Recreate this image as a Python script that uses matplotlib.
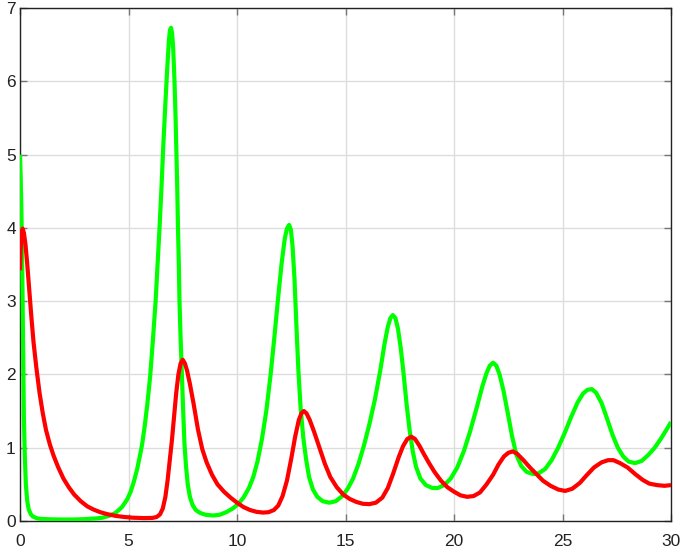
import matplotlib
matplotlib.use("Agg")
import matplotlib.pyplot as plt

# Prey (green) series
prey_t = [0, 0.03, 0.06, 0.09, 0.12, 0.15, 0.18, 0.22, 0.27, 0.33, 0.4, 0.5, 0.6, 0.8, 1.0,
          1.5, 2.0, 2.5, 3.0, 3.5, 3.8, 4.1, 4.4, 4.7, 4.93, 5.1, 5.25, 5.4, 5.52, 5.63,
          5.75, 5.87, 6.0, 6.12, 6.25, 6.34, 6.43, 6.52, 6.6, 6.7, 6.79, 6.86, 6.91, 6.96,
          7.01, 7.06, 7.12, 7.17, 7.21, 7.25, 7.28, 7.32, 7.35, 7.4, 7.46, 7.52, 7.58,
          7.65, 7.73, 7.83, 7.95, 8.1, 8.3, 8.55, 8.9, 9.2, 9.5, 9.8, 10.05, 10.3, 10.55,
          10.75, 10.95, 11.15, 11.35, 11.55, 11.72, 11.88, 12.05, 12.2, 12.3, 12.4, 12.48,
          12.56, 12.65, 12.74, 12.83, 12.93, 13.05, 13.18, 13.32, 13.5, 13.7, 13.95, 14.25,
          14.55, 14.85, 15.1, 15.35, 15.6, 15.85, 16.1, 16.35, 16.6, 16.8, 16.95, 17.07,
          17.18, 17.3, 17.42, 17.55, 17.68, 17.82, 17.95, 18.1, 18.25, 18.45, 18.7, 19.0,
          19.25, 19.55, 19.85, 20.15, 20.45, 20.75, 21.05, 21.3, 21.5, 21.65, 21.8, 21.95,
          22.1, 22.28, 22.48, 22.68, 22.88, 23.1, 23.35, 23.65, 23.9, 24.2, 24.5, 24.8,
          25.1, 25.4, 25.7, 25.95, 26.15, 26.35, 26.55, 26.8, 27.05, 27.3, 27.55, 27.8,
          28.05, 28.35, 28.65, 28.95, 29.25, 29.55, 29.8, 30]
prey_v = [5.0, 4.7, 4.3, 3.8, 3.0, 2.1, 1.4, 0.9, 0.5, 0.28, 0.16, 0.09, 0.06, 0.035, 0.028,
          0.022, 0.02, 0.021, 0.025, 0.035, 0.045, 0.07, 0.11, 0.19, 0.29, 0.4, 0.54, 0.71,
          0.88, 1.05, 1.3, 1.6, 1.98, 2.45, 3.0, 3.5, 4.0, 4.55, 5.1, 5.7, 6.2, 6.55, 6.7,
          6.73, 6.65, 6.45, 6.0, 5.5, 5.0, 4.5, 4.0, 3.5, 3.0, 2.5, 2.0, 1.5, 1.05, 0.75,
          0.5, 0.33, 0.22, 0.15, 0.11, 0.085, 0.075, 0.085, 0.12, 0.17, 0.23, 0.32, 0.45,
          0.6, 0.82, 1.12, 1.5, 2.0, 2.5, 3.0, 3.5, 3.85, 3.99, 4.04, 3.98, 3.75, 3.3, 2.65,
          2.05, 1.55, 1.15, 0.85, 0.6, 0.43, 0.33, 0.27, 0.25, 0.27, 0.34, 0.44, 0.58, 0.78,
          1.03, 1.32, 1.65, 2.05, 2.42, 2.65, 2.77, 2.81, 2.77, 2.62, 2.35, 2.0, 1.58, 1.25,
          0.95, 0.74, 0.58, 0.49, 0.45, 0.45, 0.49, 0.58, 0.73, 0.95, 1.23, 1.55, 1.83,
          2.02, 2.12, 2.16, 2.12, 2.0, 1.78, 1.47, 1.15, 0.9, 0.75, 0.67, 0.64, 0.65, 0.71,
          0.83, 1.0, 1.2, 1.42, 1.62, 1.74, 1.79, 1.8, 1.75, 1.61, 1.4, 1.18, 1.0, 0.88,
          0.81, 0.79, 0.82, 0.9, 1.0, 1.13, 1.25, 1.35]

# Predator (red) series
pred_t = [0, 0.03, 0.07, 0.12, 0.18, 0.25, 0.33, 0.42, 0.52, 0.62, 0.75, 0.9, 1.05, 1.2,
          1.38, 1.55, 1.75, 2.0, 2.25, 2.5, 2.8, 3.1, 3.4, 3.7, 4.0, 4.4, 4.8, 5.2, 5.7,
          6.1, 6.3, 6.45, 6.58, 6.7, 6.8, 6.9, 7.0, 7.1, 7.2, 7.3, 7.4, 7.5, 7.6, 7.7,
          7.83, 8.0, 8.2, 8.4, 8.6, 8.85, 9.1, 9.4, 9.7, 10.0, 10.3, 10.6, 10.9, 11.2,
          11.45, 11.7, 11.9, 12.1, 12.3, 12.5, 12.68, 12.85, 12.97, 13.08, 13.2, 13.35,
          13.55, 13.8, 14.05, 14.3, 14.6, 14.9, 15.2, 15.5, 15.8, 16.1, 16.4, 16.7, 16.95,
          17.2, 17.45, 17.65, 17.85, 18.03, 18.2, 18.4, 18.6, 18.85, 19.1, 19.4, 19.7,
          20.0, 20.3, 20.6, 20.9, 21.2, 21.5, 21.8, 22.05, 22.3, 22.5, 22.7, 22.9, 23.2,
          23.5, 23.8, 24.1, 24.45, 24.8, 25.12, 25.45, 25.8, 26.1, 26.45, 26.8, 27.1,
          27.35, 27.65, 28.0, 28.35, 28.7, 29.0, 29.35, 29.7, 30]
pred_v = [3.42, 3.7, 3.92, 3.99, 3.93, 3.78, 3.52, 3.18, 2.8, 2.45, 2.1, 1.75, 1.47, 1.24,
          1.04, 0.89, 0.74, 0.58, 0.46, 0.36, 0.27, 0.2, 0.155, 0.12, 0.095, 0.07, 0.055,
          0.045, 0.04, 0.042, 0.055, 0.09, 0.17, 0.33, 0.55, 0.82, 1.1, 1.42, 1.75, 2.0,
          2.15, 2.2, 2.15, 2.05, 1.87, 1.6, 1.25, 0.98, 0.8, 0.63, 0.5, 0.4, 0.32, 0.25,
          0.19, 0.15, 0.125, 0.115, 0.12, 0.15, 0.21, 0.34, 0.55, 0.85, 1.15, 1.38, 1.47,
          1.5, 1.47, 1.38, 1.22, 1.0, 0.78, 0.6, 0.46, 0.36, 0.3, 0.26, 0.235, 0.23, 0.25,
          0.32, 0.45, 0.65, 0.87, 1.02, 1.12, 1.15, 1.12, 1.03, 0.92, 0.79, 0.67, 0.55,
          0.46, 0.4, 0.35, 0.33, 0.34, 0.39, 0.5, 0.63, 0.77, 0.88, 0.93, 0.95, 0.92, 0.83,
          0.73, 0.64, 0.55, 0.48, 0.43, 0.41, 0.44, 0.52, 0.62, 0.73, 0.8, 0.83, 0.83,
          0.79, 0.73, 0.64, 0.56, 0.51, 0.49, 0.48, 0.49]

x_ticks = [0, 5, 10, 15, 20, 25, 30]
y_ticks = [0, 1, 2, 3, 4, 5, 6, 7]

plt.rcParams['font.family'] = ['Liberation Sans', 'DejaVu Sans']

fig = plt.figure(figsize=(6.83, 5.52), dpi=100)
ax = fig.add_axes([20 / 683, 31 / 552, 651 / 683, 513 / 552])

ax.plot(prey_t, prey_v, color='#00ff00', lw=3.0, solid_joinstyle='round',
        solid_capstyle='butt', zorder=3)
ax.plot(pred_t, pred_v, color='#ff0000', lw=3.0, solid_joinstyle='round',
        solid_capstyle='butt', zorder=4)

ax.set_xlim(0, 30)
ax.set_ylim(0, 7)
ax.set_xticks(x_ticks)
ax.set_yticks(y_ticks)
ax.grid(True, color='#dddddd', lw=1.0)
ax.set_axisbelow(True)
ax.tick_params(direction='in', length=5, width=1, color='#777777',
               top=True, right=True, labelsize=12.5, labelcolor='#222222')
ax.tick_params(axis='x', pad=9)
ax.tick_params(axis='y', pad=3)
for s in ax.spines.values():
    s.set_color('#222222')
    s.set_linewidth(1.0)

fig.savefig('out.png', dpi=100)
